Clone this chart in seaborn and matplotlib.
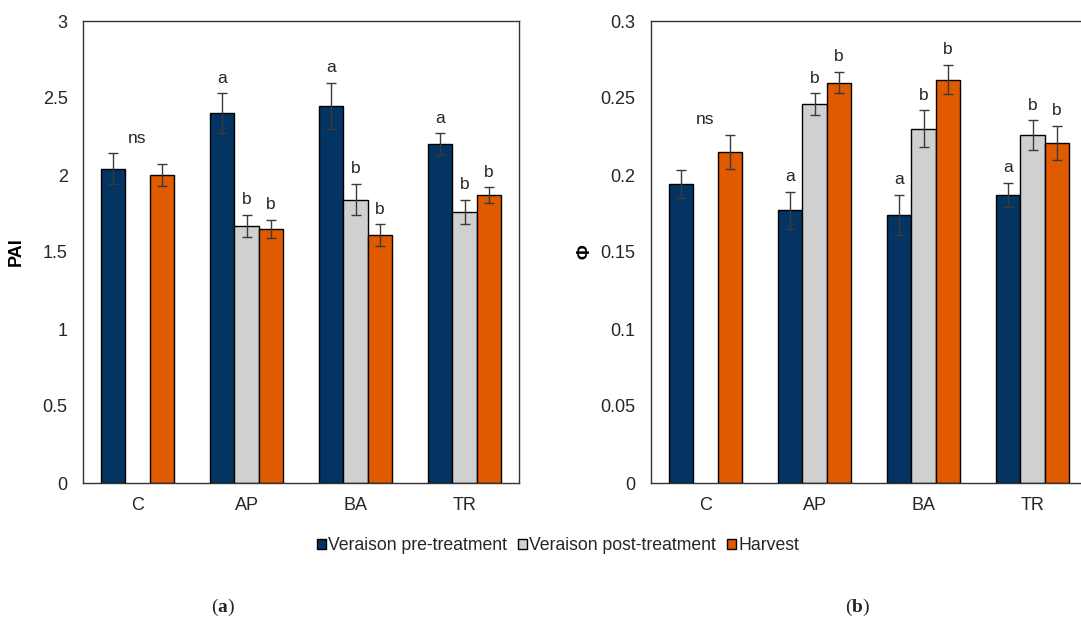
import numpy as np
import pandas as pd
import seaborn as sns
from matplotlib import pyplot as plt

categories = ['C', 'AP', 'BA', 'TR']
stages = ['Veraison pre-treatment', 'Veraison post-treatment', 'Harvest']
colors = ['#033462', '#D0D0D0', '#E05A00']

# panel (a): PAI
pai_pre = [2.04, 2.40, 2.45, 2.20]
pai_post = [np.nan, 1.67, 1.84, 1.76]
pai_harv = [2.00, 1.65, 1.61, 1.87]
pai_pre_err = [0.10, 0.13, 0.15, 0.07]
pai_post_err = [np.nan, 0.07, 0.10, 0.08]
pai_harv_err = [0.07, 0.06, 0.07, 0.05]

# panel (b): porosity
phi_pre = [0.194, 0.177, 0.174, 0.187]
phi_post = [np.nan, 0.246, 0.230, 0.226]
phi_harv = [0.215, 0.260, 0.262, 0.221]
phi_pre_err = [0.009, 0.012, 0.013, 0.008]
phi_post_err = [np.nan, 0.007, 0.012, 0.0095]
phi_harv_err = [0.011, 0.007, 0.0095, 0.011]

letters_pre = ['', 'a', 'a', 'a']
letters_post = ['', 'b', 'b', 'b']
letters_harv = ['', 'b', 'b', 'b']
group_notes = ['ns', '', '', '']

sns.set_theme(style='white')
plt.rcParams['font.family'] = ['Liberation Sans', 'DejaVu Sans']
plt.rcParams['mathtext.fontset'] = 'custom'
plt.rcParams['mathtext.rm'] = 'Liberation Serif'
plt.rcParams['mathtext.bf'] = 'Liberation Serif:bold'

W, H = 1081, 621
fig = plt.figure(figsize=(W / 100, H / 100), dpi=100)
txt = '#262626'


def draw_panel(ax, pre, post, harv, pre_err, post_err, harv_err, top, step, ylabel):
    df = pd.DataFrame({
        'cat': categories * 3,
        'stage': np.repeat(stages, 4),
        'val': pre + post + harv,
        'err': pre_err + post_err + harv_err,
        'letter': letters_pre + letters_post + letters_harv,
    })
    sns.barplot(data=df.dropna(subset=['val']), x='cat', y='val', hue='stage',
                order=categories, hue_order=stages, palette=colors, width=0.675,
                edgecolor='black', linewidth=1, errorbar=None, saturation=1, ax=ax)
    bar_conts = list(ax.containers)
    group_top = {}
    for k, cont in enumerate(bar_conts):
        for bar in cont:
            xc = bar.get_x() + bar.get_width() / 2
            ci = int(round(xc))
            row = df[(df['cat'] == categories[ci]) & (df['stage'] == stages[k])].iloc[0]
            h, e = bar.get_height(), row['err']
            ax.errorbar(xc, h, yerr=e, fmt='none', ecolor='#3a3a3a', elinewidth=1,
                        capsize=3.5, capthick=1)
            group_top[ci] = max(group_top.get(ci, 0), h + e)
            if row['letter']:
                ax.annotate(row['letter'], (xc, h + e), xytext=(0, 11),
                            textcoords='offset points', ha='center', va='center',
                            fontsize=12.5, color=txt)
    for ci, note in enumerate(group_notes):
        if note:
            ax.annotate(note, (ci, group_top[ci]), xytext=(0, 11),
                        textcoords='offset points', ha='center', va='center',
                        fontsize=12.5, color=txt)
    ax.set_xlim(-0.5, 3.5)
    ax.set_ylim(0, top)
    ticks = np.round(np.arange(0, top + step / 2, step), 3)
    ax.set_yticks(ticks)
    ax.set_yticklabels(['{:g}'.format(t) for t in ticks])
    ax.tick_params(axis='y', length=0, pad=11, labelsize=13, labelcolor=txt)
    ax.tick_params(axis='x', length=0, pad=10, labelsize=13, labelcolor=txt)
    ax.set_xlabel('')
    ax.set_ylabel(ylabel, fontweight='bold', fontsize=13, color='black')
    ax.yaxis.set_label_coords(-0.133, 0.5)
    for s in ax.spines.values():
        s.set_color('#333333')
        s.set_linewidth(1)
    ax.grid(False)


ax1 = fig.add_axes([83 / W, 1 - 483 / H, 436 / W, 462 / H])
ax2 = fig.add_axes([651 / W, 1 - 483 / H, 436 / W, 462 / H])

draw_panel(ax1, pai_pre, pai_post, pai_harv, pai_pre_err, pai_post_err, pai_harv_err,
           3, 0.5, 'PAI')
draw_panel(ax2, phi_pre, phi_post, phi_harv, phi_pre_err, phi_post_err, phi_harv_err,
           0.3, 0.05, 'Φ')

handles, labels = ax1.get_legend_handles_labels()
for a in (ax1, ax2):
    if a.get_legend() is not None:
        a.get_legend().remove()
fig.legend(handles, labels, loc='center', bbox_to_anchor=(558 / W, 1 - 546 / H),
           ncol=3, frameon=False, fontsize=12.7, handlelength=0.5, handleheight=0.5,
           handletextpad=0.15, columnspacing=0.6, labelcolor=txt)

fig.text(223 / W, 1 - 607 / H, r'$\mathrm{(}\mathbf{a}\mathrm{)}$', ha='center',
         va='center', fontsize=14)
fig.text(858 / W, 1 - 607 / H, r'$\mathrm{(}\mathbf{b}\mathrm{)}$', ha='center',
         va='center', fontsize=14)

fig.savefig('out.png', dpi=100)
